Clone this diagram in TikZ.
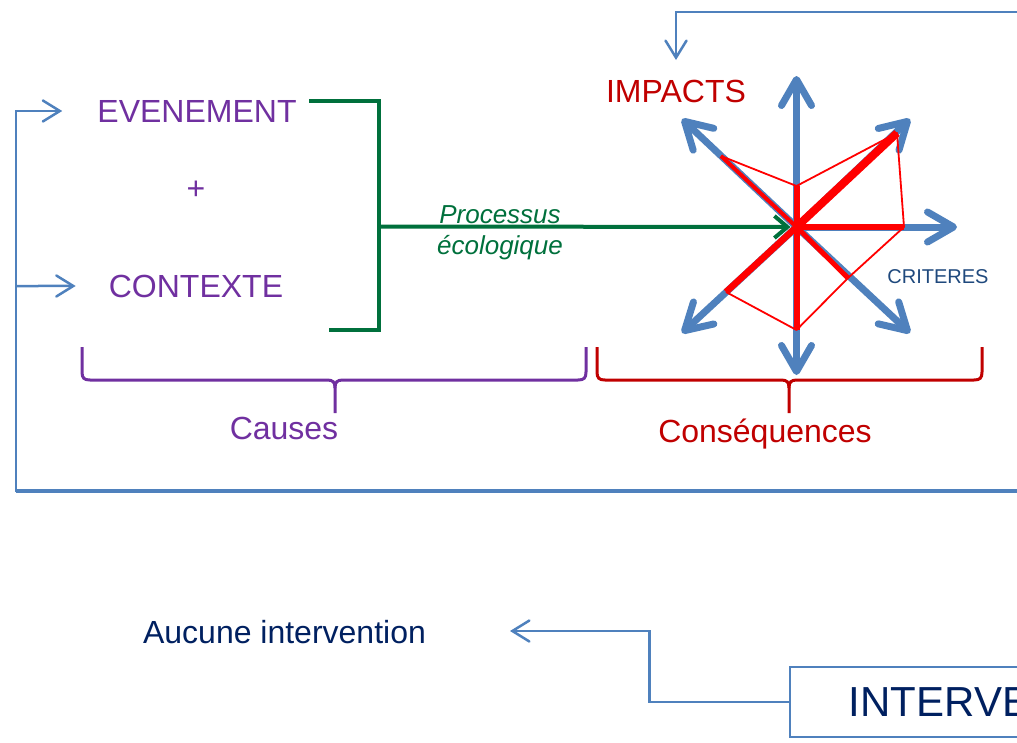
\documentclass[tikz,border=0pt]{standalone}
\usepackage{fontspec}
\setmainfont{Liberation Sans}
\usetikzlibrary{arrows.meta}
\definecolor{blueA}{RGB}{79,129,189}
\definecolor{purp}{RGB}{112,48,160}
\definecolor{grn}{RGB}{0,112,60}
\definecolor{dred}{RGB}{192,0,0}
\definecolor{navy}{RGB}{0,32,96}
\definecolor{crit}{RGB}{31,73,125}
\begin{document}
\begin{tikzpicture}[x=1pt,y=-1pt,
  big/.style={font=\fontsize{32}{38}\selectfont, inner sep=0pt, anchor=base},
  flow/.style={line width=2.5pt, draw=blueA, -{Straight Barb[length=17pt,width=21pt,line cap=round]}},
  starar/.style={line width=7pt, draw=blueA, line cap=round, -{Straight Barb[length=26pt,width=30pt,line cap=round,line join=round]}},
  grnline/.style={line width=4pt, draw=grn},
  brace/.style={line width=3pt},
  spoke/.style={draw=red, line width=6pt},
  poly/.style={draw=red, line width=1.8pt, line join=round}]
\useasboundingbox (0,0) rectangle (1017,742);
\clip (0,0) rectangle (1017,742);

% texts
\node[big, text=purp] (ev) at (197,122) {EVENEMENT};
\node[big, text=purp] (plus) at (196,199) {+};
\node[big, text=purp] (ctx) at (196,297) {CONTEXTE};
\node[big, text=dred] (imp) at (676,102) {IMPACTS};
\node[big, text=purp] (causes) at (284,439) {Causes};
\node[big, text=dred] (cons) at (765,442) {Conséquences};
\node[big, text=navy] (aucune) at (284.5,643) {Aucune intervention};
\node[font=\fontsize{20}{24}\selectfont, inner sep=0pt, anchor=base, text=crit] (crit) at (938,283) {CRITERES};
\node[font=\fontsize{26}{31}\selectfont\itshape, inner sep=0pt, anchor=base, text=grn] (proc1) at (500,223) {Processus};
\node[font=\fontsize{26}{31}\selectfont\itshape, inner sep=0pt, anchor=base, text=grn] (proc2) at (500,254) {écologique};
\node[draw=blueA, line width=1.5pt, anchor=west, inner xsep=59pt, minimum height=70pt,
      text=navy, font=\fontsize{42}{48}\selectfont] (interv) at (789,702) {INTERVENTION};

% blue feedback loops
\coordinate (rtop) at (1040,12);
\coordinate (rbot) at (1040,491);
\coordinate (topend) at (676,60);
\draw[flow] (rtop) -- (676,12) -- (topend);
\draw[line width=4pt, draw=blueA] (rbot) -- (16,491);
\draw[flow] (16,492) |- ([xshift=-35pt]ev.west);
\draw[flow] (16,286) -- ([xshift=-33pt]ctx.west);
\coordinate (aucend) at (510,631);
\draw[flow] (interv.west) -| (649.5,631) -- (aucend);

% green bracket and process arrow
\coordinate (c) at (796.5,227);
\draw[grnline, line join=miter] (309,101) -- (379,101) -- (379,330) -- (329,330);
\draw[grnline, -{Straight Barb[length=13pt,width=22pt]}, shorten >=6pt] (379,226.5) -- (c);

% star of criteria
\coordinate (aN) at (796.5,76);
\coordinate (aS) at (796.5,375);
\coordinate (aE) at (957,227);
\coordinate (aNW) at (682,119);
\coordinate (aNE) at (910,119);
\coordinate (aSW) at (682,333);
\coordinate (aSE) at (910,333);
\foreach \t in {aN,aS,aE,aNW,aNE,aSW,aSE} \draw[starar] (c) -- (\t);

% red profile
\coordinate (pNW) at (721,156);
\coordinate (pN) at (796.5,186);
\coordinate (pNE) at (897,133);
\coordinate (pE) at (904,227);
\coordinate (pSE) at (848,278);
\coordinate (pS) at (796.5,330);
\coordinate (pSW) at (726,292);
\draw[spoke, line width=4pt] (c) -- (pNW);
\draw[spoke] (c) -- (pN);
\draw[spoke, line width=8pt] (c) -- (pNE);
\draw[spoke, line width=6.5pt] (c) -- (pE);
\draw[spoke, line width=5pt] (c) -- (pSE);
\draw[spoke] (c) -- (pS);
\draw[spoke, line width=6.5pt] (c) -- (pSW);
\draw[poly] (pNW) -- (pN) -- (pNE) -- (pE) -- (pSE) -- (pS) -- (pSW);

% braces
\draw[brace, draw=purp, line join=round] (82,347) -- (82,372) .. controls (82,378) and (84,380) .. (90,380) -- (327,380) .. controls (333,380) and (335,382) .. (335,388) -- (335,413);
\draw[brace, draw=purp, line join=round] (586,347) -- (586,372) .. controls (586,378) and (584,380) .. (578,380) -- (343,380) .. controls (337,380) and (335,382) .. (335,388);
\draw[brace, draw=dred, line join=round] (597,347) -- (597,372) .. controls (597,378) and (599,380) .. (605,380) -- (781,380) .. controls (787,380) and (789,382) .. (789,388) -- (789,413);
\draw[brace, draw=dred, line join=round] (982,347) -- (982,372) .. controls (982,378) and (980,380) .. (974,380) -- (797,380) .. controls (791,380) and (789,382) .. (789,388);
\end{tikzpicture}
\end{document}
